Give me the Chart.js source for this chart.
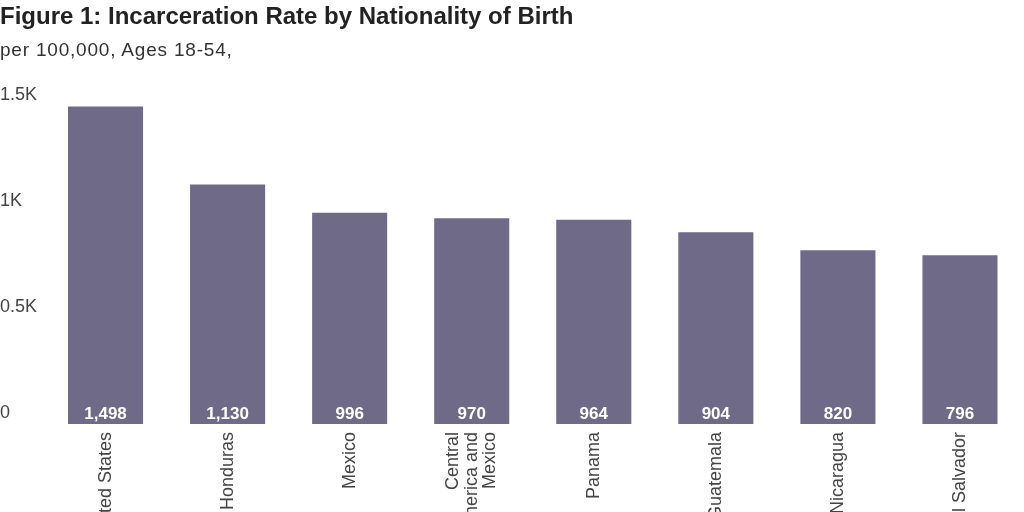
<!DOCTYPE html>
<html>
<head>
<meta charset="utf-8">
<script src="https://cdn.jsdelivr.net/npm/chart.js@4"></script>
<style>
  html, body { margin: 0; padding: 0; background: #fff; overflow: hidden; }
  #wrap { position: relative; width: 1024px; height: 512px; }
  #title { position: absolute; left: 0px; top: 2px; font-family: "Liberation Sans", sans-serif; font-weight: bold; font-size: 24px; color: #222; white-space: nowrap; }
  #subtitle { position: absolute; left: 0px; top: 39px; font-family: "Liberation Sans", sans-serif; font-size: 19px; letter-spacing: 0.8px; color: #333; white-space: nowrap; }
  canvas { position: absolute; left: 0; top: 0; }
</style>
</head>
<body>
<div id="wrap">
  <canvas id="c" width="1024" height="512"></canvas>
  <div id="title">Figure 1: Incarceration Rate by Nationality of Birth</div>
  <div id="subtitle">per 100,000, Ages 18-54,</div>
</div>
<script>
const categories = ["United States", "Honduras", "Mexico", ["Central", "America and", "Mexico"], "Panama", "Guatemala", "Nicaragua", "El Salvador"];
const rates = [1498, 1130, 996, 970, 964, 904, 820, 796];
const yTicks = [0, 500, 1000, 1500];
const yTickLabels = ["0", "0.5K", "1K", "1.5K"];

const barColor = "#706a89";

const valueLabels = {
  id: "valueLabels",
  afterDatasetsDraw(chart) {
    const ctx = chart.ctx;
    const meta = chart.getDatasetMeta(0);
    ctx.save();
    ctx.font = "bold 17px 'Liberation Sans', sans-serif";
    ctx.fillStyle = "#ffffff";
    ctx.textAlign = "center";
    ctx.textBaseline = "middle";
    meta.data.forEach((bar, i) => {
      ctx.fillText(rates[i].toLocaleString("en-US"), bar.x, bar.base - 10);
    });
    ctx.restore();
  }
};

const xLabels = {
  id: "xLabels",
  afterDraw(chart) {
    const ctx = chart.ctx;
    const scale = chart.scales.x;
    const lh = 18.5;
    ctx.save();
    ctx.font = "18px 'Liberation Sans', sans-serif";
    ctx.fillStyle = "#444";
    ctx.textAlign = "right";
    ctx.textBaseline = "middle";
    categories.forEach((lab, i) => {
      const lines = Array.isArray(lab) ? lab : [lab];
      const x = scale.getPixelForValue(i);
      ctx.save();
      ctx.translate(x, scale.top + 8);
      ctx.rotate(-Math.PI / 2);
      lines.forEach((ln, j) => {
        ctx.fillText(ln, 0, (j - (lines.length - 1) / 2) * lh);
      });
      ctx.restore();
    });
    ctx.restore();
  }
};

new Chart(document.getElementById("c"), {
  type: "bar",
  data: {
    labels: categories,
    datasets: [{
      data: rates,
      backgroundColor: barColor,
      borderWidth: 0,
      barPercentage: 0.615,
      categoryPercentage: 1.0
    }]
  },
  options: {
    responsive: false,
    animation: false,
    devicePixelRatio: 1,
    layout: { padding: { top: 106, right: 3, left: 0, bottom: 0 } },
    plugins: {
      legend: { display: false },
      tooltip: { enabled: false },
      title: { display: false }
    },
    scales: {
      x: {
        grid: { display: false, drawTicks: false },
        border: { display: false },
        ticks: { display: false },
        afterFit(scale) { scale.height = 88; }
      },
      y: {
        min: 0,
        max: 1500,
        afterBuildTicks(scale) { scale.ticks = yTicks.map(v => ({ value: v })); },
        grid: { display: false, drawTicks: false },
        border: { display: false },
        ticks: {
          crossAlign: "far",
          padding: 0,
          labelOffset: -11,
          color: "#444",
          font: { family: "'Liberation Sans', sans-serif", size: 18 },
          callback(value) { return yTickLabels[yTicks.indexOf(value)]; }
        },
        afterFit(scale) { scale.width = 44.5; }
      }
    }
  },
  plugins: [valueLabels, xLabels]
});
</script>
</body>
</html>
